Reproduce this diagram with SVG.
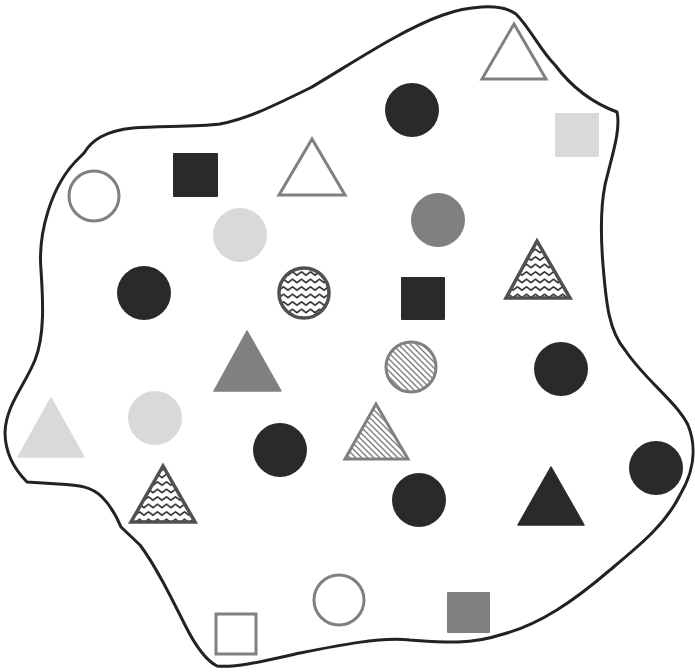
<svg xmlns="http://www.w3.org/2000/svg" width="695" height="672" viewBox="0 0 695 672">
<style>
.outline{fill:#fff;stroke:#222;stroke-width:3;stroke-linejoin:round}
.blk{fill:#2a2a2a}
.gry{fill:#808080}
.lgt{fill:#d9d9d9}
.hol{fill:none;stroke:#808080;stroke-width:3;stroke-linejoin:miter}
.zig{fill:url(#zigzag);stroke:#505050;stroke-width:3.5}
.hat{fill:url(#hatch);stroke:#808080;stroke-width:3}
.tri{stroke-linejoin:round;stroke-width:1.5}
</style>
<defs>
<pattern id="zigzag" patternUnits="userSpaceOnUse" width="9" height="7.5">
<rect width="9" height="7.5" fill="#fff"/>
<path d="M-4.5,1.8 L0,5.2 L4.5,1.8 L9,5.2 L13.5,1.8" fill="none" stroke="#1a1a1a" stroke-width="1.4" stroke-linejoin="round"/>
</pattern>
<pattern id="hatch" patternUnits="userSpaceOnUse" width="6" height="6">
<rect width="6" height="6" fill="#fff"/>
<path d="M0,0 L6,6 M-1,5 L1,7 M5,-1 L7,1" stroke="#808080" stroke-width="1.4"/>
</pattern>
</defs>
<g id="region">
<path class="outline" d="M 84,153 C 92,140 105,131 133,128 C 160,126 195,127 220,124 C 250,118 275,105 310,88 C 345,68 400,30 443,15 C 465,7 500,2 516,14 C 530,28 540,50 555,65 C 570,85 590,102 617,112 C 621,130 612,155 605,185 C 600,210 601,240 603,265 C 606,300 608,330 625,350 C 645,380 675,400 688,425 C 698,450 692,475 680,495 C 665,525 640,545 610,570 C 575,600 540,625 500,635 C 470,645 440,642 410,640 C 380,637 340,645 300,653 C 260,662 235,668 217,666 C 205,660 195,645 185,625 C 170,595 155,565 140,545 L 121,527 C 116,515 110,505 102,497 C 92,487 80,485 58,484 L 27,482 C 15,470 5,455 5,432 C 6,405 25,385 35,360 C 45,335 43,300 41,270 C 38,235 50,185 80,157 Z"/>
</g>
<g id="shapes">
<g id="n1"><polygon class="hol" points="514,24 482,79 546,79"/></g>
<g id="n2"><circle class="blk" cx="412" cy="110" r="27"/></g>
<g id="n3"><rect class="lgt" x="555" y="113" width="44" height="44" rx="1"/></g>
<g id="n4"><rect class="blk" x="173" y="153" width="45" height="44" rx="1"/></g>
<g id="n5"><polygon class="hol" points="312,139 279,195 345,195"/></g>
<g id="n6"><circle class="hol" cx="94" cy="196" r="25"/></g>
<g id="n7"><circle class="lgt" cx="240" cy="235" r="27"/></g>
<g id="n8"><circle class="gry" cx="438" cy="220" r="27"/></g>
<g id="n9"><polygon class="zig" points="537,241 506,298 570,298"/></g>
<g id="n10"><circle class="blk" cx="144" cy="293" r="27"/></g>
<g id="n11"><circle class="zig" cx="304" cy="293" r="25"/></g>
<g id="n12"><rect class="blk" x="401" y="277" width="44" height="43" rx="1"/></g>
<g id="n13"><polygon class="gry tri" stroke="#808080" points="247,331 214,391 281,391"/></g>
<g id="n14"><circle class="hat" cx="411" cy="367" r="25"/></g>
<g id="n15"><circle class="blk" cx="561" cy="369" r="27"/></g>
<g id="n16"><polygon class="lgt tri" stroke="#d9d9d9" points="51,398 18,457 84,457"/></g>
<g id="n17"><circle class="lgt" cx="155" cy="418" r="27"/></g>
<g id="n18"><circle class="blk" cx="280" cy="450" r="27"/></g>
<g id="n19"><polygon class="hat" points="376,404 345,459 408,459"/></g>
<g id="n20"><circle class="blk" cx="656" cy="468" r="27"/></g>
<g id="n21"><polygon class="zig" points="163,466 131,522 195,522"/></g>
<g id="n22"><circle class="blk" cx="419" cy="500" r="27"/></g>
<g id="n23"><polygon class="blk tri" stroke="#2a2a2a" points="551,467 518,525 584,525"/></g>
<g id="n24"><rect class="hol" x="216" y="614" width="40" height="40"/></g>
<g id="n25"><circle class="hol" cx="339" cy="600" r="25"/></g>
<g id="n26"><rect class="gry" x="447" y="592" width="43" height="41" rx="1"/></g>
</g>
</svg>
